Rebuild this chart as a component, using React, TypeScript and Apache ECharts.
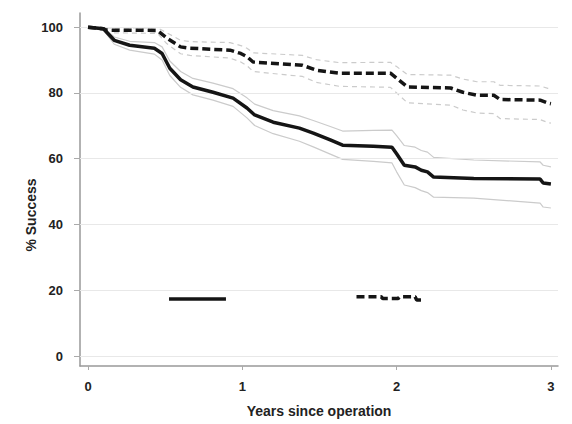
import React, { useEffect, useRef } from "react";
import * as echarts from "echarts";

// Kaplan-Meier estimate, group A (solid)
const solidTimes = [0, 0.1, 0.17, 0.27, 0.43, 0.48, 0.53, 0.6, 0.68, 0.81, 0.94, 1.03, 1.08, 1.2, 1.37, 1.46, 1.57, 1.65, 1.85, 1.97, 2.0, 2.05, 2.12, 2.16, 2.2, 2.24, 2.5, 2.93, 2.95, 3.0];
const solidSurv = [100, 99.5, 96, 94.5, 93.6, 92, 87.5, 84, 81.8, 80.2, 78.4, 75.4, 73.3, 71.1, 69.3, 67.8, 65.7, 64.1, 63.8, 63.5, 61.5, 58, 57.5, 56.5, 56, 54.4, 54, 53.8, 52.6, 52.3];
const solidUpper = [100, 99.8, 97, 95.7, 95.3, 94, 89.7, 86.5, 84.4, 83, 81.3, 78.5, 76.6, 74.6, 73, 71.6, 69.8, 68.4, 68.6, 68.7, 67, 64, 63.5, 62.5, 62, 60.4, 59.6, 59, 58, 57.5];
const solidLower = [100, 99.1, 94.8, 93, 91.8, 90, 85.3, 81.7, 79.4, 77.8, 75.9, 72.4, 70.1, 67.6, 65.3, 63.6, 61.4, 59.8, 59.2, 58.7, 56, 52, 51.2, 50.3, 49.7, 48.3, 48, 46.5, 45.3, 45];

// Kaplan-Meier estimate, group B (dashed)
const dashTimes = [0, 0.1, 0.12, 0.45, 0.51, 0.6, 0.66, 0.92, 0.99, 1.03, 1.07, 1.39, 1.48, 1.63, 1.96, 2.0, 2.07, 2.35, 2.43, 2.52, 2.63, 2.67, 2.93, 2.98, 3.0];
const dashSurv = [100, 99.5, 99.1, 99, 96.7, 94, 93.6, 93, 92, 91, 89.4, 88.4, 86.9, 86, 86, 84.5, 81.8, 81.5, 80.2, 79.3, 79.3, 78, 77.8, 76.9, 76.7];
const dashUpper = [100, 99.9, 99.8, 99.8, 98.3, 96, 95.6, 95.3, 94.4, 93.6, 92.2, 91.4, 90.1, 89.2, 89.3, 88, 85.6, 85.4, 84.2, 83.4, 83.4, 82.3, 82.1, 81.4, 81.3];
const dashLower = [100, 99, 98.3, 98.1, 95, 91.9, 91.4, 90.6, 89.4, 88.3, 86.5, 85, 83.2, 82, 81.7, 80, 77, 76.3, 74.8, 73.9, 73.7, 72.2, 71.9, 71, 70.8];

// Legend key segments
const keySolidTimes = [0.525, 0.894];
const keySolidVals = [17.3, 17.3];
const keyDashTimes = [1.74, 1.9, 1.91, 2.01, 2.02, 2.12, 2.13, 2.16];
const keyDashVals = [18, 18, 17.5, 17.5, 18, 18, 17, 17];

const xTicks = [0, 1, 2, 3];
const yTicks = [0, 20, 40, 60, 80, 100];

const zip = (t: number[], v: number[]) => t.map((x, i) => [x, v[i]]);

export default function App() {
  const ref = useRef<HTMLDivElement>(null);
  useEffect(() => {
    if (!ref.current) return;
    const chart = echarts.init(ref.current, null, { renderer: "svg" });
    const font = "Liberation Sans, Arial, sans-serif";
    const mainLine = (name: string, data: number[][], dashed: boolean) => ({
      name,
      type: "line",
      data,
      showSymbol: false,
      symbol: "none",
      silent: true,
      lineStyle: { color: "#151515", width: 3.5, type: dashed ? [8, 4] : "solid", cap: "butt" },
      z: 5,
    });
    const ciLine = (name: string, data: number[][], dashed: boolean) => ({
      name,
      type: "line",
      data,
      showSymbol: false,
      symbol: "none",
      silent: true,
      lineStyle: { color: "#cbcbcb", width: 1.2, type: dashed ? [5, 4] : "solid" },
      z: 3,
    });
    chart.setOption({
      animation: false,
      backgroundColor: "#ffffff",
      grid: { left: 80, right: 14, top: 13, bottom: 58, containLabel: false },
      xAxis: {
        type: "value",
        min: -0.052,
        max: 3.046,
        name: "Years since operation",
        nameLocation: "middle",
        nameGap: 38,
        nameTextStyle: { fontFamily: font, fontWeight: "bold", fontSize: 14, color: "#222" },
        axisLine: { show: true, onZero: false, lineStyle: { color: "#999", width: 1.5 } },
        axisTick: { show: true, length: 4, customValues: xTicks, lineStyle: { color: "#aaa" } },
        axisLabel: {
          customValues: xTicks,
          margin: 14,
          fontFamily: font,
          fontWeight: "bold",
          fontSize: 13,
          color: "#222",
        },
        splitLine: { show: false },
      },
      yAxis: {
        type: "value",
        min: -3.04,
        max: 104.3,
        axisLine: { show: true, onZero: false, lineStyle: { color: "#999", width: 1.5 } },
        axisTick: { show: true, length: 6, customValues: yTicks, lineStyle: { color: "#aaa" } },
        axisLabel: {
          customValues: yTicks,
          margin: 17,
          fontFamily: font,
          fontWeight: "bold",
          fontSize: 13,
          color: "#222",
        },
        splitLine: { show: false },
      },
      graphic: [
        {
          type: "text",
          x: 31,
          y: 215,
          rotation: Math.PI / 2,
          style: {
            text: "% Success",
            fontFamily: font,
            fontWeight: "bold",
            fontSize: 14,
            fill: "#222",
            align: "center",
            verticalAlign: "middle",
          },
        },
      ],
      series: [
        {
          name: "grid",
          type: "line",
          data: [],
          silent: true,
          markLine: {
            silent: true,
            symbol: "none",
            label: { show: false },
            lineStyle: { color: "#e8e8e8", width: 1.2, type: "solid" },
            data: yTicks.map((v) => ({ yAxis: v })),
          },
          z: 1,
        },
        ciLine("A upper", zip(solidTimes, solidUpper), false),
        ciLine("A lower", zip(solidTimes, solidLower), false),
        ciLine("B upper", zip(dashTimes, dashUpper), true),
        ciLine("B lower", zip(dashTimes, dashLower), true),
        mainLine("A", zip(solidTimes, solidSurv), false),
        mainLine("B", zip(dashTimes, dashSurv), true),
        mainLine("key A", zip(keySolidTimes, keySolidVals), false),
        mainLine("key B", zip(keyDashTimes, keyDashVals), true),
      ],
    });
    return () => chart.dispose();
  }, []);
  return (
    <div
      ref={ref}
      style={{ position: "fixed", left: 0, top: 0, width: 572, height: 424 }}
    />
  );
}
